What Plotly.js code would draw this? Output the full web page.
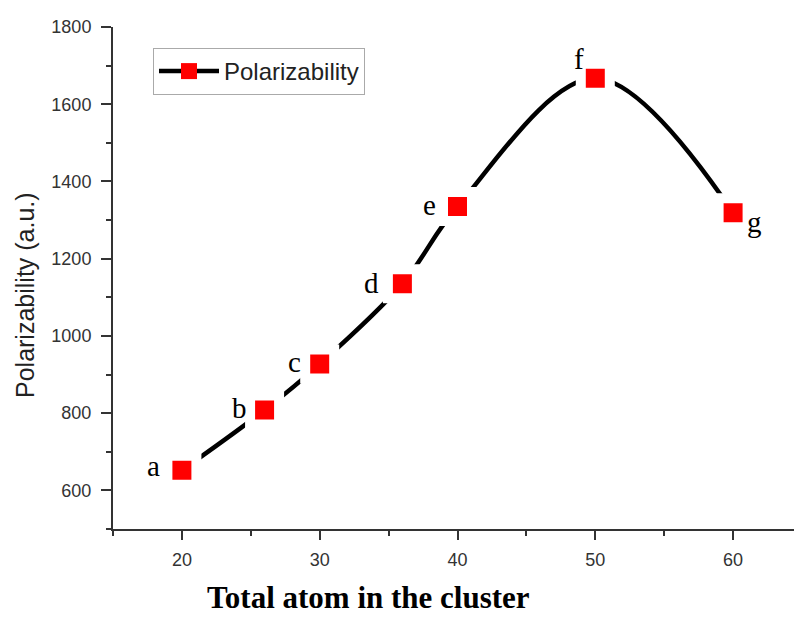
<!DOCTYPE html>
<html>
<head>
<meta charset="utf-8">
<script src="https://cdn.plot.ly/plotly-3.0.1.min.js"></script>
<style>
  html, body { margin: 0; padding: 0; background: #fff; }
  #chart { width: 794px; height: 618px; }
</style>
</head>
<body>
<div id="chart"></div>
<script>
// Total atoms in each cluster and its computed polarizability (a.u.)
const atoms = [20, 26, 30, 36, 40, 50, 60];
const polarizability = [652, 808, 927, 1135, 1335, 1667, 1319];
const pointLabels = ['a', 'b', 'c', 'd', 'e', 'f', 'g'];
const xTicks = [20, 30, 40, 50, 60];
const yTicks = [600, 800, 1000, 1200, 1400, 1600, 1800];

const sans = 'Liberation Sans, Arial, sans-serif';
const serif = 'Liberation Serif, Times New Roman, serif';

// plot area in pixels, used to place the free-standing titles
const plotLeft = 113, plotTop = 27, plotW = 681, plotH = 502;
const px2x = px => (px - plotLeft) / plotW;
const px2y = py => (plotTop + plotH - py) / plotH;

// pixel offsets of each letter relative to its marker
const labelShift = [[-28, 4], [-25, 2], [-25, 2], [-31, 1], [-28, 2], [-16, 19], [21, -9]];

// curve with squares; the white rim leaves a small gap between line and marker
const curve = {
  x: atoms,
  y: polarizability,
  type: 'scatter',
  mode: 'lines+markers',
  name: 'Polarizability',
  showlegend: false,
  line: { color: '#000', width: 4.5, shape: 'spline', smoothing: 1 },
  marker: {
    symbol: 'square',
    size: 29,
    color: '#ff0000',
    line: { color: '#ffffff', width: 10 }
  }
};

// legend entry: continuous line through a plain red square
const legendEntry = {
  x: [null],
  y: [null],
  type: 'scatter',
  mode: 'lines+markers',
  name: 'Polarizability',
  line: { color: '#000', width: 4.5 },
  marker: { symbol: 'square', size: 18, color: '#ff0000', line: { width: 0 } }
};

const annotations = atoms.map((x, i) => ({
  x: x,
  y: polarizability[i],
  xref: 'x',
  yref: 'y',
  text: pointLabels[i],
  showarrow: false,
  xshift: labelShift[i][0],
  yshift: labelShift[i][1],
  font: { family: serif, size: 29, color: '#000' }
}));

// x-axis title
annotations.push({
  xref: 'paper', yref: 'paper',
  x: px2x(368), y: px2y(598),
  xanchor: 'center', yanchor: 'middle',
  borderpad: 0,
  text: '<b>Total atom in the cluster</b>',
  showarrow: false,
  font: { family: serif, size: 31, color: '#000' }
});

// y-axis title
annotations.push({
  xref: 'paper', yref: 'paper',
  x: px2x(25), y: px2y(295),
  xanchor: 'center', yanchor: 'middle',
  textangle: -90,
  text: 'Polarizability (a.u.)',
  showarrow: false,
  font: { family: sans, size: 25, color: '#222' }
});

const layout = {
  width: 794,
  height: 618,
  margin: { l: plotLeft, r: 0, t: plotTop, b: 618 - plotTop - plotH },
  paper_bgcolor: '#fff',
  plot_bgcolor: '#fff',
  showlegend: true,
  legend: {
    x: px2x(153), y: px2y(48), xanchor: 'left', yanchor: 'top',
    bordercolor: '#aaa', borderwidth: 1, bgcolor: '#fff',
    font: { family: sans, size: 24, color: '#222' },
    itemwidth: 60,
    tracegroupgap: 0
  },
  xaxis: {
    range: [15, 64.42],
    tickvals: xTicks,
    ticktext: xTicks.map(String),
    ticks: 'outside', ticklen: 9, tickwidth: 2, tickcolor: '#333',
    ticklabelstandoff: 4,
    showline: true, linecolor: '#333', linewidth: 2,
    showgrid: false, zeroline: false,
    tickfont: { family: sans, size: 18, color: '#333' },
    minor: { dtick: 5, tick0: 15, ticks: 'outside', ticklen: 5, tickwidth: 2, tickcolor: '#333', showgrid: false }
  },
  yaxis: {
    range: [500, 1800],
    tickvals: yTicks,
    ticktext: yTicks.map(String),
    ticks: 'outside', ticklen: 10, tickwidth: 2, tickcolor: '#333',
    ticklabelstandoff: 6,
    showline: true, linecolor: '#333', linewidth: 2,
    showgrid: false, zeroline: false,
    tickfont: { family: sans, size: 18, color: '#333' },
    minor: { dtick: 100, tick0: 500, ticks: 'outside', ticklen: 5, tickwidth: 2, tickcolor: '#333', showgrid: false }
  },
  annotations: annotations
};

Plotly.newPlot('chart', [curve, legendEntry], layout, { displayModeBar: false, staticPlot: true });
</script>
</body>
</html>
